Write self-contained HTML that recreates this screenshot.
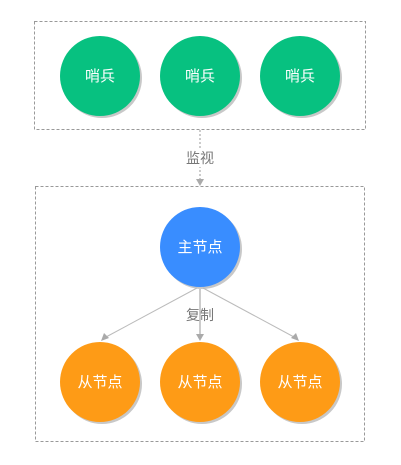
<html><head><style>body{margin:0;background:#fff;width:401px;height:465px;overflow:hidden}</style></head><body>
<svg width="401" height="465" xmlns="http://www.w3.org/2000/svg" font-family="Liberation Sans, Noto Sans CJK SC, sans-serif">
<rect x="34.5" y="21.5" width="331" height="108" fill="none" stroke="#999" stroke-dasharray="3,2"/>
<rect x="35.5" y="186.5" width="329" height="255" fill="none" stroke="#999" stroke-dasharray="3,2"/>
<line x1="200" y1="130" x2="200" y2="180" stroke="#ccc" stroke-width="2" stroke-dasharray="2,2"/>
<path d="M196 179 L204 179 L200 186 Z" fill="#aaa"/>
<rect x="184" y="149" width="32" height="18" fill="#fff"/>
<text x="200" y="163" font-size="14" fill="#777" text-anchor="middle">监视</text>
<g fill="#c8c8c8">
<circle cx="102" cy="78" r="40"/><circle cx="202" cy="78" r="40"/><circle cx="302" cy="78" r="40"/>
<circle cx="202" cy="249" r="40"/>
<circle cx="102" cy="384" r="40"/><circle cx="202" cy="384" r="40"/><circle cx="302" cy="384" r="40"/>
</g>
<g fill="#07c180"><circle cx="100" cy="76" r="40"/><circle cx="200" cy="76" r="40"/><circle cx="300" cy="76" r="40"/></g>
<circle cx="200" cy="247" r="40" fill="#398dff"/>
<line x1="197" y1="288" x2="106" y2="337" stroke="#bbb"/>
<line x1="203" y1="288" x2="294" y2="337" stroke="#bbb"/>
<line x1="200" y1="288" x2="200" y2="334" stroke="#ccc" stroke-width="2"/>
<path d="M101 341 L104 333 L109 338 Z" fill="#aaa"/>
<path d="M299 341 L296 333 L291 338 Z" fill="#aaa"/>
<path d="M196 334 L204 334 L200 341 Z" fill="#aaa"/>
<text x="200" y="320" font-size="14" fill="#777" text-anchor="middle">复制</text>
<g fill="#fe9b16"><circle cx="100" cy="382" r="40"/><circle cx="200" cy="382" r="40"/><circle cx="300" cy="382" r="40"/></g>
<g fill="#fff" font-size="15" text-anchor="middle">
<text x="100" y="81">哨兵</text><text x="200" y="81">哨兵</text><text x="300" y="81">哨兵</text>
<text x="200" y="252">主节点</text>
<text x="100" y="387">从节点</text><text x="200" y="387">从节点</text><text x="300" y="387">从节点</text>
</g>
</svg>
</body></html>
